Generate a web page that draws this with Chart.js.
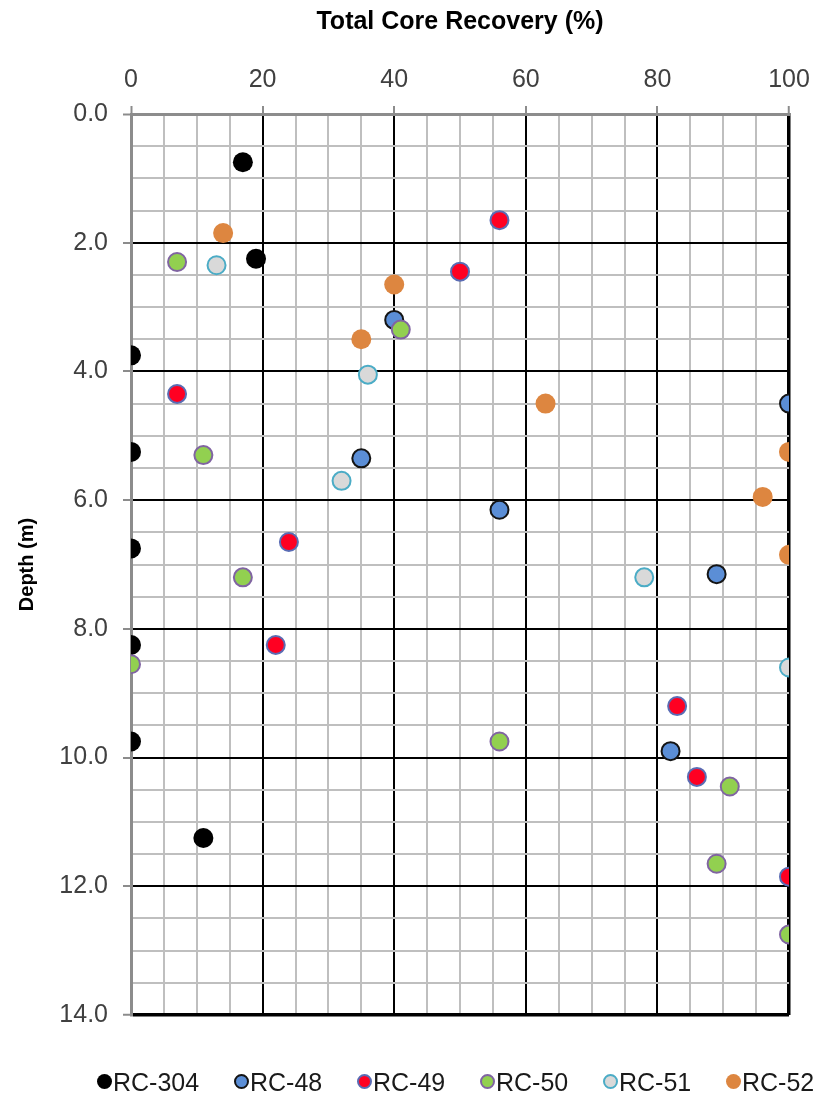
<!DOCTYPE html>
<html>
<head>
<meta charset="utf-8">
<script src="https://cdn.jsdelivr.net/npm/chart.js@4.4.0/dist/chart.umd.min.js"></script>
<style>
  body { margin: 0; background: #fff; }
  #wrap { position: relative; width: 816px; height: 1101px; }
  #legend { position: absolute; left: 0; top: 1066px; width: 816px; height: 34px;
            font-family: "Liberation Sans", Arial, sans-serif; font-size: 25px; color: #1a1a1a; white-space: nowrap; }
  #legend .dot { position: absolute; top: 8px; width: 15px; height: 15px; border-radius: 50%; box-sizing: border-box; }
  #legend .txt { position: absolute; top: 0; line-height: 32px; }
</style>
</head>
<body>
<div id="wrap">
  <canvas id="grafico"></canvas>
  <div id="legend"></div>
</div>
<script>
// ----------------------- dados -----------------------//
var series = ["RC-304", "RC-48", "RC-49", "RC-50", "RC-51", "RC-52"];

var rc304 = [[17, 0.75], [19, 2.25], [0, 3.75], [0, 5.25], [0, 6.75], [0, 8.25], [0, 9.75], [11, 11.25]];
var rc48  = [[40, 3.2], [100, 4.5], [35, 5.35], [56, 6.15], [89, 7.15], [82, 9.9]];
var rc49  = [[56, 1.65], [50, 2.45], [7, 4.35], [24, 6.65], [22, 8.25], [83, 9.2], [86, 10.3], [100, 11.85]];
var rc50  = [[7, 2.3], [41, 3.35], [11, 5.3], [17, 7.2], [0, 8.55], [56, 9.75], [91, 10.45], [89, 11.65], [100, 12.75]];
var rc51  = [[13, 2.35], [36, 4.05], [32, 5.7], [78, 7.2], [100, 8.6]];
var rc52  = [[14, 1.85], [40, 2.65], [35, 3.5], [63, 4.5], [100, 5.25], [96, 5.95], [100, 6.85]];

var cores  = ["#000000", "#5B8ED6", "#FF0022", "#92D050", "#D9D9D9", "#DD8640"];
var bordas = ["#000000", "#141414", "#5A6CB4", "#8064A2", "#4BACC6", "#DD8640"];
var larguras = [0, 2, 2, 2, 2, 0];

var valores = [rc304, rc48, rc49, rc50, rc51, rc52];

var datasets = series.map(function (nome, i) {
    return {
        label: nome,
        data: valores[i].map(function (p) { return { x: p[0], y: p[1] }; }),
        backgroundColor: cores[i],
        borderColor: bordas[i],
        borderWidth: larguras[i],
        pointRadius: larguras[i] ? 9 : 10,
        pointHoverRadius: larguras[i] ? 9 : 10,
        order: series.length - i
    };
});

function corGradeX(ctx) {
    var v = ctx.tick.value;
    if (v === 0) return "#8c8c8c";
    return v % 20 === 0 ? "#000000" : "#bfbfbf";
}
function larguraGradeX(ctx) {
    var v = ctx.tick.value;
    if (v === 100) return 3.5;
    if (v === 0) return 3;
    return 2;
}
function corGradeY(ctx) {
    var v = ctx.tick.value;
    if (v === 0) return "#8c8c8c";
    return v % 2 === 0 ? "#000000" : "#bfbfbf";
}
function larguraGradeY(ctx) {
    var v = ctx.tick.value;
    if (v === 14) return 3.5;
    if (v === 0) return 3;
    return 2;
}

var fonteTicks = { family: "'Liberation Sans', Arial, sans-serif", size: 25 };

var opcoes = {
    responsive: true,
    maintainAspectRatio: false,
    animation: false,
    layout: { padding: { left: 0, right: 27, top: 0, bottom: 86 } },
    plugins: { legend: { display: false }, tooltip: { enabled: false } },
    scales: {
        x: {
            type: "linear",
            position: "top",
            min: 0,
            max: 100,
            ticks: {
                stepSize: 5,
                autoSkip: false,
                maxRotation: 0,
                padding: 11,
                color: "#404040",
                font: fonteTicks,
                callback: function (v) { return v % 20 === 0 ? String(v) : ""; }
            },
            grid: {
                color: corGradeX,
                lineWidth: larguraGradeX,
                tickLength: 8,
                tickColor: function (ctx) { return ctx.tick.value % 20 === 0 ? "#8c8c8c" : "rgba(0,0,0,0)"; },
                tickWidth: 2
            },
            border: { color: "#8c8c8c", width: 3 },
            title: {
                display: true,
                text: "Total Core Recovery (%)",
                color: "#000000",
                font: { family: "'Liberation Sans', Arial, sans-serif", size: 25, weight: "bold" },
                padding: { top: 7, bottom: 14 }
            },
            afterFit: function (s) {
                s.height = 114;
                s.paddingLeft = 0;
                s.paddingRight = 0;
            }
        },
        y: {
            type: "linear",
            reverse: true,
            min: 0,
            max: 14,
            ticks: {
                stepSize: 0.5,
                autoSkip: false,
                padding: 15,
                color: "#404040",
                font: fonteTicks,
                callback: function (v) { return v % 2 === 0 ? v.toFixed(1) : ""; }
            },
            grid: {
                color: corGradeY,
                lineWidth: larguraGradeY,
                tickLength: 8,
                tickColor: function (ctx) { return ctx.tick.value % 2 === 0 ? "#8c8c8c" : "rgba(0,0,0,0)"; },
                tickWidth: 2
            },
            border: { color: "#8c8c8c", width: 3 },
            title: {
                display: true,
                text: "Depth (m)",
                color: "#000000",
                font: { family: "'Liberation Sans', Arial, sans-serif", size: 20, weight: "bold" },
                padding: { top: 15, bottom: 0 }
            },
            afterFit: function (s) { s.width = 131; }
        }
    }
};

var ctx = document.getElementById("grafico").getContext("2d");
var grafico = new Chart(ctx, {
    type: "scatter",
    data: { datasets: datasets },
    options: opcoes
});

// legenda em HTML (centro de cada marcador)
var legX = [104, 241, 364, 487, 610, 733];
var leg = document.getElementById("legend");
series.forEach(function (nome, i) {
    var dot = document.createElement("span");
    dot.className = "dot";
    dot.style.left = (legX[i] - 7) + "px";
    dot.style.background = cores[i];
    dot.style.border = (larguras[i] ? "2px solid " + bordas[i] : "none");
    leg.appendChild(dot);
    var txt = document.createElement("span");
    txt.className = "txt";
    txt.style.left = (legX[i] + 9) + "px";
    txt.textContent = nome;
    leg.appendChild(txt);
});
</script>
</body>
</html>
